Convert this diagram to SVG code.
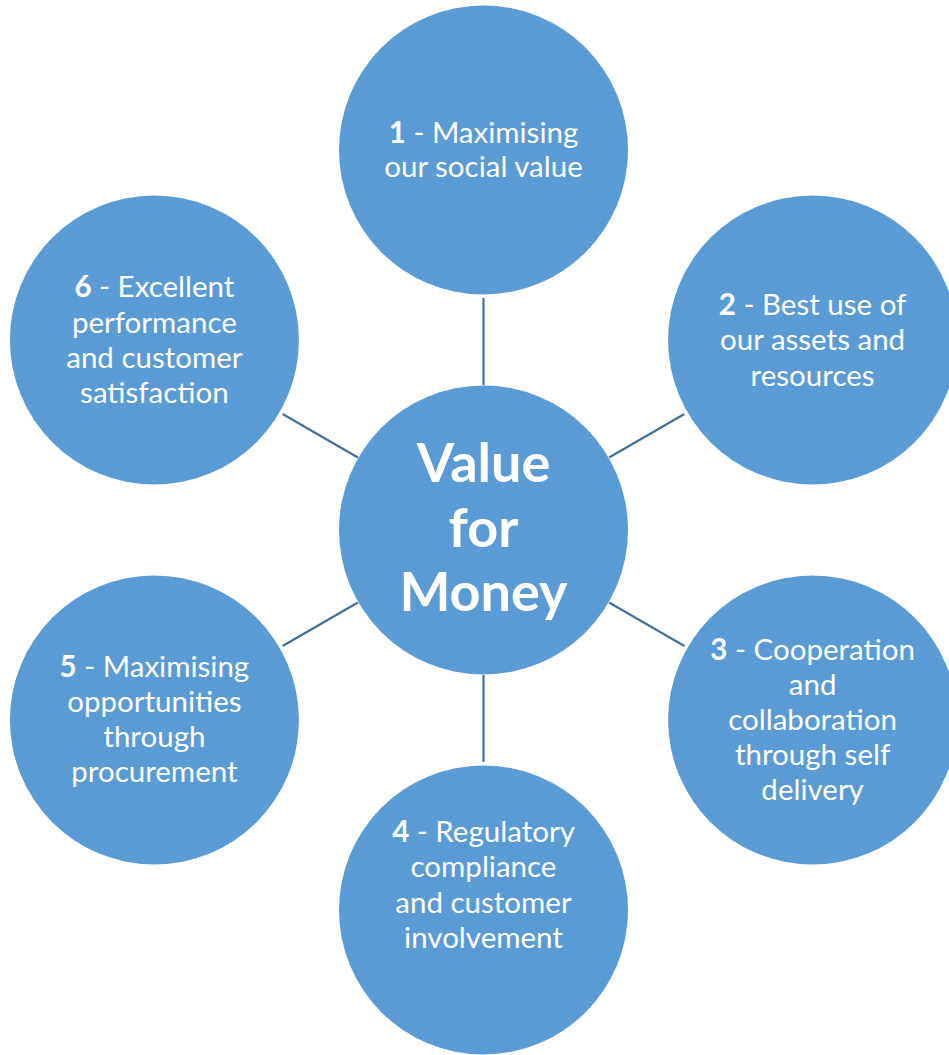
<svg xmlns="http://www.w3.org/2000/svg" width="949" height="1055" viewBox="0 0 949 1055">
  <style>
    .node { fill: #5B9BD5; }
    .label { fill: #FFFFFF; font-family: Lato, "Open Sans", "Liberation Sans", sans-serif; font-size: 29.5px; text-anchor: middle; }
    .num { font-weight: bold; }
    .hub { fill: #FFFFFF; font-family: Lato, "Open Sans", "Liberation Sans", sans-serif; font-size: 54px; font-weight: bold; text-anchor: middle; }
    .link { stroke: #41719C; stroke-width: 2.2; fill: none; }
  </style>
  <rect width="949" height="1055" fill="#FFFFFF"/>

  <!-- spokes between the hub and the six satellites -->
  <g id="connectors">
    <line class="link" x1="483.5" y1="385" x2="483.5" y2="298"/>
    <line class="link" x1="609.1" y1="457.5" x2="684.4" y2="414"/>
    <line class="link" x1="609.1" y1="602.5" x2="684.4" y2="646"/>
    <line class="link" x1="483.5" y1="675" x2="483.5" y2="762"/>
    <line class="link" x1="357.9" y1="602.5" x2="282.6" y2="646"/>
    <line class="link" x1="357.9" y1="457.5" x2="282.6" y2="414"/>
  </g>

  <g id="hub">
    <circle class="node" cx="483.5" cy="530" r="144.5"/>
    <text class="hub" x="483.5" y="482">Value</text>
    <text class="hub" x="483.5" y="547">for</text>
    <text class="hub" x="483.5" y="611">Money</text>
  </g>

  <g id="node1">
    <circle class="node" cx="483.5" cy="150" r="144.5"/>
    <text class="label" x="483.5" y="143"><tspan class="num">1</tspan> - Maximising</text>
    <text class="label" x="483.5" y="177">our social value</text>
  </g>

  <g id="node2">
    <circle class="node" cx="812.6" cy="340" r="144.5"/>
    <text class="label" x="812.6" y="315"><tspan class="num">2</tspan> - Best use of</text>
    <text class="label" x="812.6" y="350">our assets and</text>
    <text class="label" x="812.6" y="386">resources</text>
  </g>

  <g id="node3">
    <circle class="node" cx="812.6" cy="720" r="144.5"/>
    <text class="label" x="812.6" y="660"><tspan class="num">3</tspan> - Cooperation</text>
    <text class="label" x="812.6" y="695">and</text>
    <text class="label" x="812.6" y="730">collaboration</text>
    <text class="label" x="812.6" y="765">through self</text>
    <text class="label" x="812.6" y="800">delivery</text>
  </g>

  <g id="node4">
    <circle class="node" cx="483.5" cy="910" r="144.5"/>
    <text class="label" x="483.5" y="842"><tspan class="num">4</tspan> - Regulatory</text>
    <text class="label" x="483.5" y="877">compliance</text>
    <text class="label" x="483.5" y="913">and customer</text>
    <text class="label" x="483.5" y="948">involvement</text>
  </g>

  <g id="node5">
    <circle class="node" cx="154.4" cy="720" r="144.5"/>
    <text class="label" x="154.4" y="677"><tspan class="num">5</tspan> - Maximising</text>
    <text class="label" x="154.4" y="712">opportunities</text>
    <text class="label" x="154.4" y="747">through</text>
    <text class="label" x="154.4" y="782">procurement</text>
  </g>

  <g id="node6">
    <circle class="node" cx="154.4" cy="340" r="144.5"/>
    <text class="label" x="154.4" y="297"><tspan class="num">6</tspan> - Excellent</text>
    <text class="label" x="154.4" y="333">performance</text>
    <text class="label" x="154.4" y="368">and customer</text>
    <text class="label" x="154.4" y="403">satisfaction</text>
  </g>
</svg>
